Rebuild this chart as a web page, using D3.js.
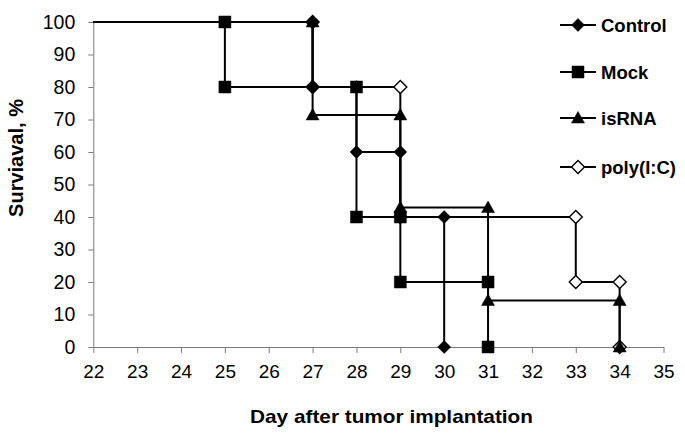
<!DOCTYPE html>
<html>
<head>
<meta charset="utf-8">
<script src="https://cdn.jsdelivr.net/npm/d3@7"></script>
<style>
  html, body { margin: 0; padding: 0; background: #fff; }
  svg { display: block; font-family: "Liberation Sans", Arial, sans-serif; }
</style>
</head>
<body>
<svg id="chart" width="685" height="434"></svg>
<script>
// ---- data ----
const dayTicks = [22, 23, 24, 25, 26, 27, 28, 29, 30, 31, 32, 33, 34, 35];
const survivalTicks = [0, 10, 20, 30, 40, 50, 60, 70, 80, 90, 100];
const seriesNames = ["Control", "Mock", "isRNA", "poly(I:C)"];

const controlDays   = [0, 27, 27, 28, 28, 29, 29, 30, 30];
const controlValues = [100, 100, 80, 80, 60, 60, 40, 40, 0];

const mockDays   = [0, 25, 25, 28, 28, 29, 29, 31, 31];
const mockValues = [100, 100, 80, 80, 40, 40, 20, 20, 0];

const isrnaDays   = [0, 27, 27, 29, 29, 31, 31, 34, 34];
const isrnaValues = [100, 100, 71.4, 71.4, 42.9, 42.9, 14.3, 14.3, 0];

const polyDays   = [0, 27, 27, 29, 29, 33, 33, 34, 34];
const polyValues = [100, 100, 80, 80, 40, 40, 20, 20, 0];

const xTitle = "Day after tumor implantation";
const yTitle = "Surviaval, %";

// ---- chart ----
const svg = d3.select("#chart");
const x = d3.scaleLinear().domain([22, 35]).range([93.3, 663.5]);
const y = d3.scaleLinear().domain([0, 100]).range([347, 22]);

const markerPaths = {
  diamond: "M0,-6.5L6.5,0L0,6.5L-6.5,0Z",
  square: "M-6,-6H6V6H-6Z",
  triangle: "M0,-6.5L6.5,5L-6.5,5Z",
  openDiamond: "M0,-6.5L6.5,0L0,6.5L-6.5,0Z"
};

const series = [
  { name: seriesNames[0], days: controlDays, values: controlValues, marker: "diamond", fill: "#000" },
  { name: seriesNames[1], days: mockDays, values: mockValues, marker: "square", fill: "#000" },
  { name: seriesNames[2], days: isrnaDays, values: isrnaValues, marker: "triangle", fill: "#000" },
  { name: seriesNames[3], days: polyDays, values: polyValues, marker: "openDiamond", fill: "#fff" }
];

// axes
const axisColor = "#7a7a7a";
const gy = svg.append("g").attr("transform", `translate(${x(22)},0)`)
  .call(d3.axisLeft(y).tickValues(survivalTicks).tickSize(5).tickPadding(13).tickSizeOuter(0));
gy.select(".domain").attr("stroke", axisColor);
gy.selectAll(".tick line").attr("stroke", axisColor);
gy.selectAll(".tick text").attr("font-size", 19.5).attr("fill", "#000")
  .attr("font-family", "Liberation Sans, Arial, sans-serif");

const gx = svg.append("g").attr("transform", `translate(0,${y(0)})`)
  .call(d3.axisBottom(x).tickValues(dayTicks).tickSize(6).tickPadding(12).tickSizeOuter(0));
gx.select(".domain").attr("stroke", axisColor);
gx.selectAll(".tick line").attr("stroke", axisColor);
gx.selectAll(".tick text").attr("font-size", 19).attr("fill", "#000")
  .attr("font-family", "Liberation Sans, Arial, sans-serif");

// clip to plot region (series start before the axis range)
svg.append("defs").append("clipPath").attr("id", "plotclip")
  .append("rect").attr("x", x(22)).attr("y", 0).attr("width", 685 - x(22)).attr("height", 434);

const plot = svg.append("g").attr("clip-path", "url(#plotclip)");
const line = d3.line().x(d => x(d[0])).y(d => y(d[1]));

// draw in reverse order so poly(I:C) lies underneath
const drawOrder = series.slice().reverse();
drawOrder.forEach(s => {
  const pts = s.days.map((d, i) => [d, s.values[i]]);
  const g = plot.append("g");
  g.append("path").datum(pts).attr("d", line)
    .attr("fill", "none").attr("stroke", "#000").attr("stroke-width", 2);
  g.selectAll("path.mk").data(pts).join("path").attr("class", "mk")
    .attr("d", markerPaths[s.marker])
    .attr("transform", d => `translate(${x(d[0])},${y(d[1])})`)
    .attr("fill", s.fill).attr("stroke", "#000")
    .attr("stroke-width", s.marker === "openDiamond" ? 1.4 : 0.5);
});

// legend
const legendY = [25, 72, 118, 167];
const lg = svg.append("g");
series.forEach((s, i) => {
  const r = lg.append("g").attr("transform", `translate(0,${legendY[i]})`);
  r.append("line").attr("x1", 560).attr("x2", 596).attr("y1", 0).attr("y2", 0)
    .attr("stroke", "#000").attr("stroke-width", 2);
  r.append("path").attr("d", markerPaths[s.marker]).attr("transform", "translate(578,0)")
    .attr("fill", s.fill).attr("stroke", "#000")
    .attr("stroke-width", s.marker === "openDiamond" ? 1.4 : 0.5);
  r.append("text").attr("x", 601).attr("y", 6.7).attr("font-size", 18.5)
    .attr("font-weight", "bold").attr("fill", "#000").text(s.name);
});

// titles
svg.append("text").attr("x", 391.5).attr("y", 423).attr("text-anchor", "middle")
  .attr("font-size", 19).attr("font-weight", "bold").attr("fill", "#000")
  .attr("textLength", 283).attr("lengthAdjust", "spacingAndGlyphs").text(xTitle);

svg.append("text").attr("transform", "translate(23,158) rotate(-90)")
  .attr("text-anchor", "middle").attr("font-size", 20).attr("font-weight", "bold")
  .attr("fill", "#000").text(yTitle);
</script>
</body>
</html>
